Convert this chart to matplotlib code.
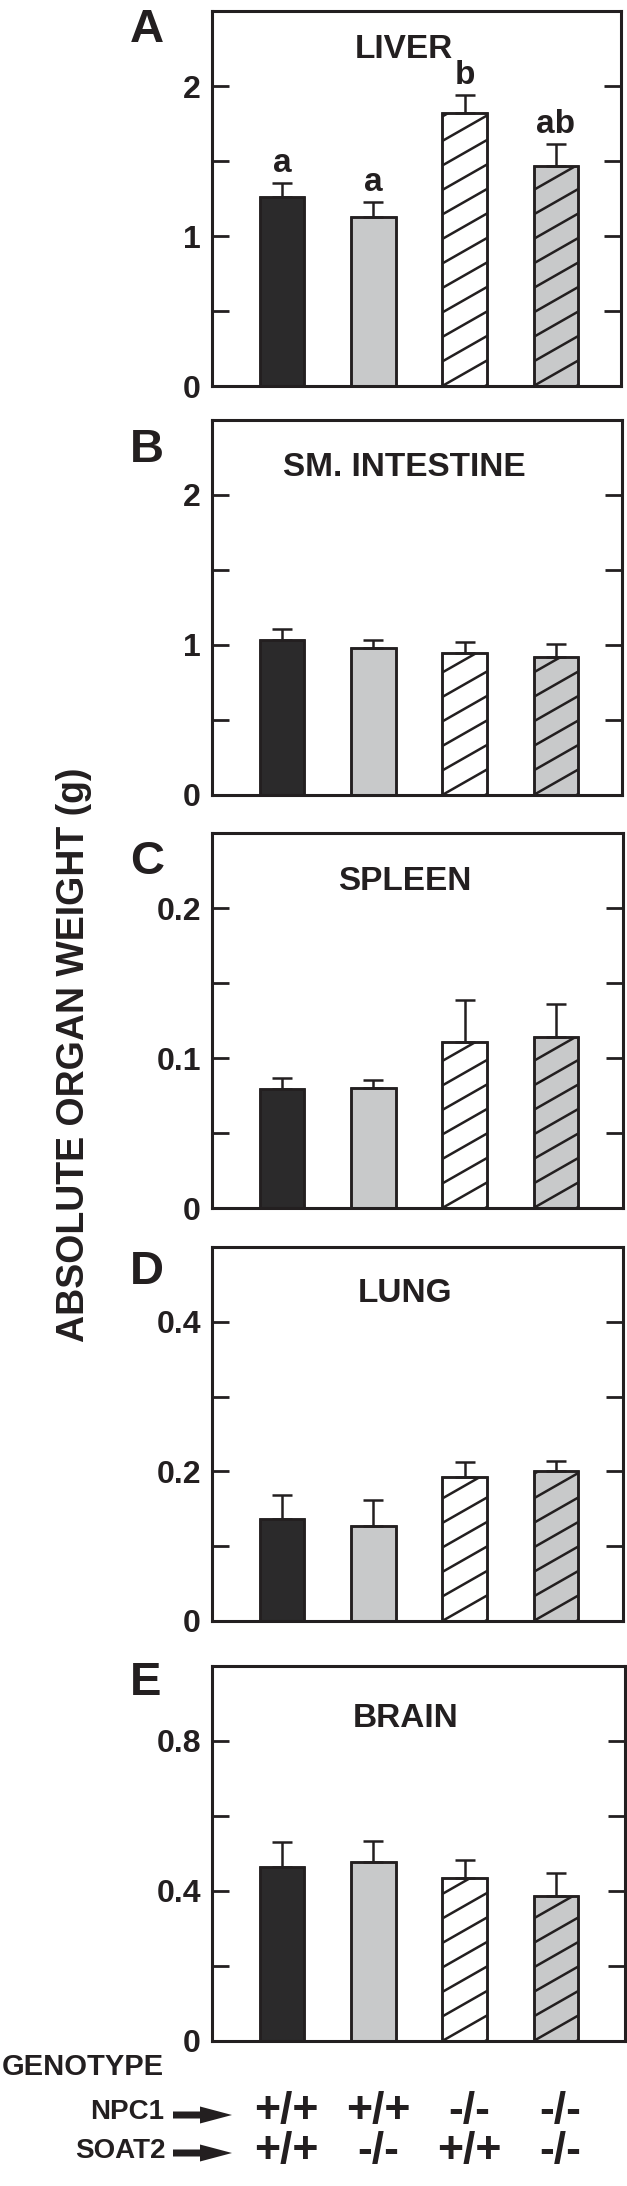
import matplotlib
matplotlib.use('Agg')
import matplotlib.pyplot as plt
import numpy as np
from matplotlib.transforms import IdentityTransform, blended_transform_factory
from matplotlib.patches import FancyArrow
from matplotlib.lines import Line2D

plt.rcParams['font.family'] = ['Liberation Sans', 'DejaVu Sans']
plt.rcParams['font.weight'] = 'bold'

# ---------------- data ----------------
npc1 = ['+/+', '+/+', '-/-', '-/-']
soat2 = ['+/+', '-/-', '+/+', '-/-']
organs = ['LIVER', 'SM. INTESTINE', 'SPLEEN', 'LUNG', 'BRAIN']
panel_letters = ['A', 'B', 'C', 'D', 'E']

liver_mean = [1.26, 1.13, 1.82, 1.47]
liver_sem = [0.093, 0.094, 0.12, 0.144]
intestine_mean = [1.033, 0.978, 0.949, 0.922]
intestine_sem = [0.074, 0.055, 0.073, 0.082]
spleen_mean = [0.0795, 0.080, 0.111, 0.114]
spleen_sem = [0.0069, 0.0056, 0.028, 0.022]
lung_mean = [0.136, 0.127, 0.193, 0.201]
lung_sem = [0.032, 0.035, 0.019, 0.0127]
brain_mean = [0.464, 0.477, 0.435, 0.388]
brain_sem = [0.068, 0.057, 0.049, 0.061]
liver_letters = ['a', 'a', 'b', 'ab']

y_max = [2.5, 2.5, 0.25, 0.5, 1.0]
y_major = [[0, 1, 2], [0, 1, 2], [0, 0.1, 0.2], [0, 0.2, 0.4], [0, 0.4, 0.8]]
y_major_labels = [['0', '1', '2'], ['0', '1', '2'], ['0', '0.1', '0.2'],
                  ['0', '0.2', '0.4'], ['0', '0.4', '0.8']]
y_minor = [[0.5, 1.5], [0.5, 1.5], [0.05, 0.15], [0.1, 0.3], [0.2, 0.6]]

means = [liver_mean, intestine_mean, spleen_mean, lung_mean, brain_mean]
sems = [liver_sem, intestine_sem, spleen_sem, lung_sem, brain_sem]

# ---------------- style / layout ----------------
W, H, DPI = 627, 2186, 100
INK = '#231f20'
faces = ['#2b2a2b', '#c8c9ca', 'white', '#c8c9ca']
hatched = [False, False, True, True]

tops = [11, 420, 833, 1247, 1666]
bottoms = [386, 795, 1208, 1621, 2041]
rights = [621, 622, 623, 623, 625]
LEFT = 212
PX_PER_X = 91.3
XL = -0.767
title_y = [0.896, 0.872, 0.872, 0.877, 0.86]
letter_top = [8, 428, 840, 1250, 1661]

fig = plt.figure(figsize=(W / DPI, H / DPI), dpi=DPI)


def fx(p):
    return p / W


def fy(p):
    return 1 - p / H


def add_hatch(ax, patch, spacing=24.5, slope=0.57, lw=1.8):
    bb = patch.get_window_extent()
    x0, y0, x1, y1 = bb.x0, bb.y0, bb.x1, bb.y1
    wid = x1 - x0
    kmin = -int(slope * wid / spacing) - 2
    kmax = int((y1 - y0) / spacing) + 2
    for k in range(kmin, kmax + 1):
        b = y0 + k * spacing
        ln = Line2D([x0 - 5, x1 + 5], [b - 5 * slope, b + (wid + 5) * slope],
                    transform=IdentityTransform(), color=INK, lw=lw,
                    solid_capstyle='butt', zorder=2.5)
        ax.add_artist(ln)
        ln.set_clip_path(patch.get_path(), patch.get_transform())


x = np.arange(4)
axes = []
for i in range(5):
    t, b, r = tops[i], bottoms[i], rights[i]
    ax = fig.add_axes([fx(LEFT), fy(b), fx(r - LEFT), (b - t) / H])
    axes.append(ax)
    ax.set_xlim(XL, XL + (r - LEFT) / PX_PER_X)
    ax.set_ylim(0, y_max[i])
    bars = ax.bar(x, means[i], 0.49, color=faces, edgecolor=INK,
                  linewidth=1.8, zorder=2)
    for j, p in enumerate(bars):
        if hatched[j]:
            add_hatch(ax, p)
    ax.bar(x, means[i], 0.49, fill=False, edgecolor=INK, linewidth=1.8,
           zorder=3)
    ax.errorbar(x, means[i], yerr=[np.zeros(4), sems[i]], fmt='none',
                ecolor=INK, elinewidth=1.8, capsize=7.5, capthick=1.8,
                zorder=4)
    ax.set_yticks(y_major[i])
    ax.set_yticklabels(y_major_labels[i])
    ax.set_yticks(y_minor[i], minor=True)
    ax.tick_params(axis='y', which='both', direction='in', length=12,
                   width=2.0, left=True, right=True, labelleft=True,
                   labelsize=23, pad=8, color=INK, labelcolor=INK)
    ax.set_xticks([])
    for s in ax.spines.values():
        s.set_linewidth(2.2)
        s.set_color(INK)
    ax.text(0.47, title_y[i], organs[i], transform=ax.transAxes,
            ha='center', va='center', fontsize=24, color=INK,
            fontweight='bold')
    fig.text(fx(130), fy(letter_top[i]), panel_letters[i], ha='left',
             va='top', fontsize=34, color=INK, fontweight='bold')

# significance letters on liver
axA = axes[0]
for j in range(4):
    axA.annotate(liver_letters[j], xy=(x[j], liver_mean[j] + liver_sem[j]),
                 xytext=(0, 8), textcoords='offset points', ha='center',
                 va='baseline', fontsize=24, color=INK, fontweight='bold')

# y label
fig.text(fx(74), fy(1055), 'ABSOLUTE ORGAN WEIGHT (g)', rotation=90,
         ha='center', va='center', fontsize=27, color=INK, fontweight='bold')

# genotype rows
fig.text(fx(2), fy(2067), 'GENOTYPE', ha='left', va='center', fontsize=21,
         color=INK, fontweight='bold')
fig.text(fx(164), fy(2112), 'NPC1', ha='right', va='center', fontsize=20,
         color=INK, fontweight='bold')
fig.text(fx(166), fy(2151), 'SOAT2', ha='right', va='center', fontsize=20,
         color=INK, fontweight='bold')
for yy in (2115, 2153):
    arr = FancyArrow(173, H - yy, 59, 0, width=7, head_width=17,
                     head_length=32, length_includes_head=True,
                     transform=IdentityTransform(), color=INK, lw=0)
    fig.add_artist(arr)

axE = axes[4]
btrans = blended_transform_factory(axE.transData, fig.transFigure)
for j in range(4):
    axE.text(x[j] + 0.05, fy(2112), npc1[j], transform=btrans, ha='center',
             va='center', fontsize=32, color=INK, fontweight='bold',
             clip_on=False)
    axE.text(x[j] + 0.05, fy(2152), soat2[j], transform=btrans, ha='center',
             va='center', fontsize=32, color=INK, fontweight='bold',
             clip_on=False)

fig.savefig('out.png', dpi=DPI, facecolor='white')
